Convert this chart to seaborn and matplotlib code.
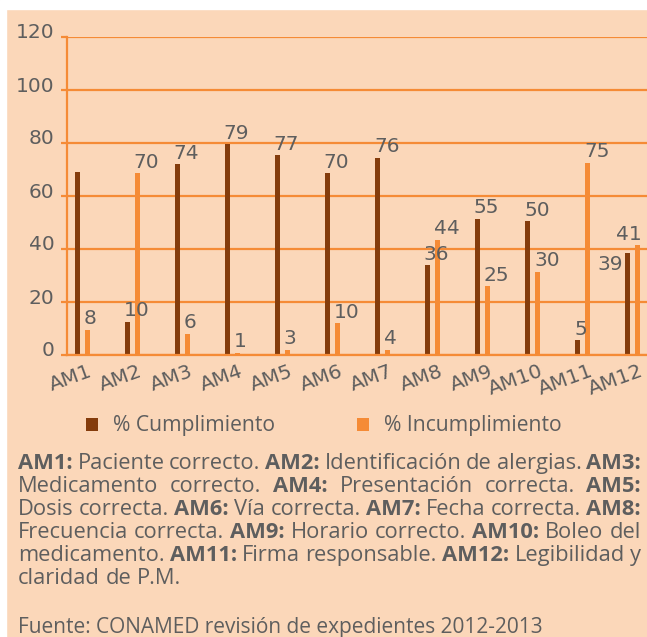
import matplotlib
matplotlib.use("Agg")
import matplotlib.pyplot as plt
import matplotlib.transforms as mtransforms
from matplotlib.patches import Rectangle
import pandas as pd
import seaborn as sns

# datos
categorias = ["AM1", "AM2", "AM3", "AM4", "AM5", "AM6",
              "AM7", "AM8", "AM9", "AM10", "AM11", "AM12"]
series = ["% Cumplimiento", "% Incumplimiento"]
cumplimiento = [69, 12.5, 72, 79.5, 75.5, 68.5, 74.5, 34, 51.5, 50.5, 5.5, 38.5]
incumplimiento = [9.5, 68.5, 8, 0.8, 2, 12, 2, 43.5, 26, 31.5, 72.5, 41.5]
etiquetas_cumpl = ["", "10", "74", "79", "77", "70", "76", "36", "55", "50", "5", "39"]
etiquetas_incumpl = ["8", "70", "6", "1", "3", "10", "4", "44", "25", "30", "75", "41"]
yticks = [0, 20, 40, 60, 80, 100, 120]

nota = [
    "**AM1:** Paciente correcto. **AM2:** Identificación de alergias. **AM3:**",
    "Medicamento correcto. **AM4:** Presentación correcta. **AM5:**",
    "Dosis correcta. **AM6:** Vía correcta. **AM7:** Fecha correcta. **AM8:**",
    "Frecuencia correcta. **AM9:** Horario correcto. **AM10:** Boleo del",
    "medicamento. **AM11:** Firma responsable. **AM12:** Legibilidad y",
    "claridad de P.M.",
]
fuente = "Fuente: CONAMED revisión de expedientes 2012-2013"

CAFE = "#843C0C"
NARANJA = "#F58B36"
FONDO = "#FBD7B9"
GRIS = "#5E5E5E"
FAMILIA = ["Open Sans", "DejaVu Sans"]

sns.set_theme(style="white")
plt.rcParams["font.family"] = ["DejaVu Sans"]

W, H = 647, 637
fig = plt.figure(figsize=(W / 100, H / 100), dpi=100, facecolor=FONDO)
ax = fig.add_axes([67 / W, 1 - 355 / H, 1 - 67 / W, (355 - 37) / H])
ax.set_facecolor(FONDO)

df = pd.DataFrame({
    "cat": categorias * 2,
    "valor": cumplimiento + incumplimiento,
    "serie": [series[0]] * len(categorias) + [series[1]] * len(categorias),
})
sns.barplot(data=df, x="cat", y="valor", hue="serie", palette=[CAFE, NARANJA],
            width=0.4, gap=0.5, saturation=1, linewidth=0, ax=ax, legend=True)

ax.set_xlim(-0.31, 11.28)
ax.set_ylim(0, 120)
ax.set_yticks(yticks)
ax.set_xlabel("")
ax.set_ylabel("")
ax.grid(axis="y", color=NARANJA, linewidth=1.6)
ax.set_axisbelow(True)
for lado in ["top", "right"]:
    ax.spines[lado].set_visible(False)
for lado in ["left", "bottom"]:
    ax.spines[lado].set_color(NARANJA)
    ax.spines[lado].set_linewidth(1.6)
ax.tick_params(axis="y", left=True, length=4, width=1.6, color=NARANJA,
               labelsize=14.5, labelcolor=GRIS, pad=5)
ax.tick_params(axis="x", bottom=False, length=0, labelsize=14.5, labelcolor=GRIS, pad=5)

sube = mtransforms.ScaledTranslation(0, 0.06, fig.dpi_scale_trans)
for lab in ax.get_yticklabels():
    lab.set_transform(lab.get_transform() + sube)
corre = mtransforms.ScaledTranslation(0.06, 0, fig.dpi_scale_trans)
for lab in ax.get_xticklabels():
    lab.set_rotation(20)
    lab.set_ha("right")
    lab.set_va("top")
    lab.set_rotation_mode("anchor")
    lab.set_transform(lab.get_transform() + corre)

# etiquetas de datos
ultimo = len(categorias) - 1
for k, (cont, etiquetas) in enumerate(zip(ax.containers, [etiquetas_cumpl, etiquetas_incumpl])):
    for i, (barra, txt) in enumerate(zip(cont, etiquetas)):
        if not txt:
            continue
        x, h = barra.get_x(), barra.get_height()
        if i == ultimo and k == 0:
            ax.annotate(txt, (x, h), xytext=(-2, -8), textcoords="offset points",
                        ha="right", va="center", fontsize=14.5, color=GRIS)
        elif i == ultimo:
            ax.annotate(txt, (x + barra.get_width(), h), xytext=(1, 1),
                        textcoords="offset points", ha="right", va="bottom",
                        fontsize=14.5, color=GRIS)
        else:
            ax.annotate(txt, (x, h), xytext=(-1, 1), textcoords="offset points",
                        ha="left", va="bottom", fontsize=14.5, color=GRIS)

# leyenda
ax.legend(loc="center", bbox_to_anchor=(324 / W, 1 - 426 / H),
          bbox_transform=fig.transFigure, ncol=2, frameon=False,
          handlelength=0.57, handleheight=0.57, handletextpad=0.7, columnspacing=3.9,
          prop={"family": FAMILIA, "size": 15.2}, labelcolor=GRIS)

renderer = fig.canvas.get_renderer()


def ancho(texto, size, bold=False):
    t = fig.text(0, 0, texto, fontsize=size, family=FAMILIA,
                 fontweight="bold" if bold else "normal")
    w = t.get_window_extent(renderer).width
    t.remove()
    return w


# nota justificada; tamano ajustado para que la linea 4 llene el ancho
x0, x1 = 18, 641
bases = [469, 492, 515, 538, 561, 584]
prueba = 12
palabras4 = nota[3].split()
nat = sum(ancho(p.strip("*"), prueba, p.startswith("**")) for p in palabras4)
nat += (len(palabras4) - 1) * prueba * 0.26 * 100 / 72
tam = prueba * (x1 - x0 - 6) / nat

for n, (linea, yb) in enumerate(zip(nota, bases)):
    textos = []
    for palabra in linea.split():
        negrita = palabra.startswith("**")
        t = fig.text(0, 1 - yb / H, palabra.strip("*"), fontsize=tam, family=FAMILIA,
                     fontweight="bold" if negrita else "normal", color=GRIS,
                     va="baseline", ha="left")
        textos.append(t)
    anchos = [t.get_window_extent(renderer).width for t in textos]
    if n == len(nota) - 1:
        hueco = tam * 0.26 * 100 / 72
    else:
        hueco = (x1 - x0 - sum(anchos)) / (len(textos) - 1)
    x = x0
    for t, a in zip(textos, anchos):
        t.set_x(x / W)
        x += a + hueco

tam_f = 12 * (540 - x0) / ancho(fuente, 12)
fig.text(x0 / W, 1 - 633 / H, fuente, fontsize=tam_f, family=FAMILIA,
         color=GRIS, va="baseline", ha="left")

# borde blanco superior e izquierdo
fig.patches.append(Rectangle((0, 1 - 9 / H), 1, 9 / H, transform=fig.transFigure,
                             color="white", zorder=5))
fig.patches.append(Rectangle((0, 0), 6 / W, 1, transform=fig.transFigure,
                             color="white", zorder=5))

fig.savefig("out.png", dpi=100, facecolor=FONDO)
